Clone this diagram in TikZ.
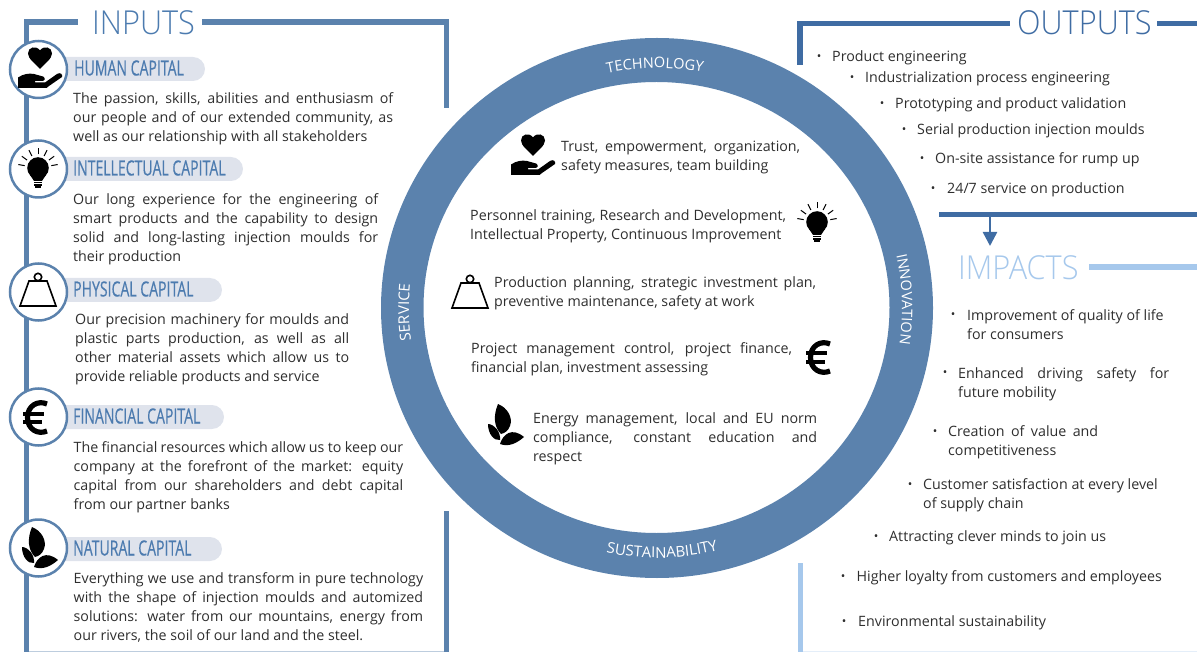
\documentclass[tikz,border=0pt]{standalone}
\usepackage{fontspec}
\usetikzlibrary{decorations.text,arrows.meta}
\setmainfont{Open Sans}
\newfontfamily\bodyf{Open Sans}
\newfontfamily\condf[FakeStretch=0.67,FakeBold=0.4]{Open Sans}
\newfontfamily\headf[FakeStretch=0.93]{Open Sans Light}
\definecolor{ringc}{HTML}{5B82AD}
\definecolor{outc}{HTML}{3F6CA3}
\definecolor{impc}{HTML}{A6C8EC}
\definecolor{pillc}{HTML}{DFE3EC}
\definecolor{txtc}{HTML}{2E2E2E}
\definecolor{titc}{HTML}{4C7BAF}
\tikzset{
  x=1pt,y=-1pt,
  para/.style={anchor=north west,inner sep=0pt,text width=#1,align=justify,text=txtc,
    font=\bodyf\fontsize{14.25}{19}\selectfont\sloppy,execute at begin node={\rule{0pt}{12pt}}},
  free/.style={anchor=base west,inner sep=0pt,text=txtc,font=\bodyf\fontsize{14.25}{19}\selectfont},
  dotn/.style={anchor=base,inner sep=0pt,text=txtc,font=\bodyf\fontsize{12}{19}\selectfont},
  pilltitle/.style={anchor=base west,inner sep=0pt,text=titc,font=\condf\fontsize{21}{24}\selectfont},
  heading/.style={anchor=base west,inner sep=0pt,font=\headf\fontsize{33}{36}\selectfont},
  badge/.style={circle,draw=ringc,line width=2.5pt,fill=white,minimum size=57pt,inner sep=0pt},
  hearthand/.pic={
    \fill (1,0) .. controls (-3,-5) and (-11,-10) .. (-11,-15.5) .. controls (-11,-22) and (-3,-24) .. (1,-18.5)
      .. controls (5,-24) and (13,-22) .. (13,-15.5) .. controls (13,-10) and (5,-5) .. (1,0) -- cycle;
    \fill (-21,19) -- (-21,8.5) .. controls (-16,5) and (-10,4) .. (-5,5) -- (4,7.5) .. controls (6.5,8.5) and (6.5,12) .. (3,12)
      -- (-4,12) -- (-4,13.5) -- (6,13.5) -- (18,5) .. controls (21,3) and (24,5) .. (23,8) -- (10,17)
      .. controls (8,19) .. (5,19) -- cycle;
  },
  bulb/.pic={
    \fill (0,0) circle (10.8);
    \fill (-8,7) -- (-4,13) -- (4,13) -- (8,7) -- cycle;
    \foreach \yy in {14.5,17}{\draw[line width=1.2pt] (-4,\yy) -- (4,\yy);}
    \fill (-3,18.5) rectangle (3,20.5);
    \foreach \a in {90,63,36,10,117,144,170}{
      \draw[line width=1pt] ({13.5*cos(\a)},{-13.5*sin(\a)}) -- ({20*cos(\a)},{-20*sin(\a)});}
  },
  weightic/.pic={
    \draw[line width=1.6pt] (0,-15) circle (3.7);
    \draw[line width=1.6pt,line join=miter,fill=white] (-9,-11) -- (9,-11) -- (18,14) -- (-18,14) -- cycle;
  },
  euroic/.pic={
    \draw[line width=5.2pt] (12,-13.5) .. controls (3,-17.5) and (-7.5,-12) .. (-7.5,0) .. controls (-7.5,12) and (3,17.5) .. (12,13.5);
    \draw[line width=4pt] (-12,-4) -- (9,-4);
    \draw[line width=4pt] (-12,4) -- (7,4);
  },
  leaves/.pic={
    \fill (-8,-20) .. controls (2,-16) and (7,-6) .. (4,2) .. controls (2,7) and (-1,9) .. (-5,10)
      .. controls (-12,3) and (-13,-8) .. (-8,-20) -- cycle;
    \fill (-18,0) .. controls (-12,0) and (-5,8) .. (-6,16) .. controls (-12,17) and (-18,10) .. (-18,0) -- cycle;
    \fill (-6,20) .. controls (-3,10) and (6,3) .. (18,13) .. controls (10,20) and (2,23) .. (-6,20) -- cycle;
  }
}
\begin{document}
\begin{tikzpicture}
\useasboundingbox (0,0) rectangle (1197,652);
% ---- ring
\fill[ringc,even odd rule] (657,308) ellipse [x radius=276,y radius=270]
  (656.5,307.5) ellipse [x radius=233,y radius=225.5];
% ---- inputs frame
\fill[ringc] (24,19.5) rectangle (78,25);
\fill[ringc] (202,19.5) rectangle (449,25);
\fill[ringc] (24,19.5) rectangle (29,652);
\fill[ringc] (444,19.5) rectangle (449,108);
\fill[ringc] (444,511) rectangle (449,652);
\fill[ringc!40] (29,651) rectangle (444,652);
\node[heading,text=titc] (inputs) at (92,35) {INPUTS};
% ---- outputs frame
\fill[outc] (797,20.7) rectangle (1010,26);
\fill[outc] (1157,20.7) rectangle (1197,26);
\fill[outc] (797,20.7) rectangle (803,65);
\fill[outc] (939,212) rectangle (1197,217.5);
\node[heading,text=outc] (outputs) at (1017,35) {OUTPUTS};
\coordinate (arrowa) at (990,217);
\coordinate (arrowb) at (990,246);
\draw[outc,line width=2.5pt,-{Triangle[width=14pt,length=14pt]}] (arrowa) -- (arrowb);
% ---- impacts frame
\fill[impc] (1089,264) rectangle (1197,270);
\fill[impc] (797.5,563) rectangle (803,652);
\fill[impc!30] (803,651) rectangle (1197,652);
\node[heading,text=impc] (impacts) at (958,280) {IMPACTS};
% ---- pills
\foreach \yc/\xr in {69/205,169/243,290/222,417/224,549/222}{
  \fill[pillc,rounded corners=12pt] (40,\yc-12) rectangle (\xr,\yc+12);
}
% ---- badges
\node[badge] (b1) at (38.5,69.5) {};
\node[badge] (b2) at (38.5,169) {};
\node[badge] (b3) at (38.5,292) {};
\node[badge] (b4) at (38.5,417) {};
\node[badge] (b5) at (38.5,548) {};
\pic at (39,69) {hearthand};
\pic at (38,168) {bulb};
\pic at (38,292) {weightic};
\pic at (35,417.5) {euroic};
\pic at (40,547) {leaves};
% ---- pill titles
\node[pilltitle] (t1) at (74,75.5) {HUMAN CAPITAL};
\node[pilltitle] (t2) at (73,175.5) {INTELLECTUAL CAPITAL};
\node[pilltitle] (t3) at (73,296.5) {PHYSICAL CAPITAL};
\node[pilltitle] (t4) at (73,423.5) {FINANCIAL CAPITAL};
\node[pilltitle] (t5) at (73,555.5) {NATURAL CAPITAL};
% ---- left paragraphs
\node[para=320pt] (p1) at (73,91) {The passion, skills, abilities and enthusiasm of\linebreak our people and of our extended community, as\linebreak well as our relationship with all stakeholders};
\node[para=305pt] (p2) at (73,192) {Our long experience for the engineering of\linebreak smart products and the capability to design\linebreak solid and long-lasting injection moulds for\linebreak their production};
\node[para=274pt] (p3) at (75,312) {Our precision machinery for moulds and\linebreak plastic parts production, as well as all\linebreak other material assets which allow us to\linebreak provide reliable products and service};
\node[para=329.5pt] (p4) at (73.5,440) {The financial resources which allow us to keep our\linebreak company at the forefront of the market: equity\linebreak capital from our shareholders and debt capital\linebreak from our partner banks};
\node[para=349.5pt] (p5) at (73.5,571) {Everything we use and transform in pure technology\linebreak with the shape of injection moulds and automized\linebreak solutions: water from our mountains, energy from\linebreak our rivers, the soil of our land and the steel.};
% ---- centre
\pic at (532,156) {hearthand};
\pic at (817,222) {bulb};
\pic at (470,294) {weightic};
\pic at (818,357.5) {euroic};
\pic at (506,424) {leaves};
\node[para=239pt] (c1) at (561,139) {Trust, empowerment, organization,\linebreak safety measures, team building};
\node[para=316pt] (c2) at (470,208) {\parfillskip=0pt Personnel training, Research and Development,\linebreak Intellectual Property, Continuous Improvement};
\node[para=322pt] (c3) at (494,275) {Production planning, strategic investment plan,\linebreak preventive maintenance, safety at work};
\node[para=321pt] (c4) at (471,341) {Project management control, project finance,\linebreak financial plan, investment assessing};
\node[para=284pt] (c5) at (533,411) {Energy management, local and EU norm\linebreak compliance, constant education and\linebreak respect};
% ---- ring labels
\begin{scope}[shift={(657,308)},y=1pt]
  \path[decorate,decoration={text along path,text align=center,
    text={|\bodyf\fontsize{14.5}{16}\selectfont\color{white}|TECHNOLOGY}}]
    (120.5:240) arc[start angle=120.5,end angle=60.5,radius=240];
  \path[decorate,decoration={text along path,text align=center,
    text={|\bodyf\fontsize{15}{16}\selectfont\color{white}|SUSTAINABILITY}}]
    (-122.3:250) arc[start angle=-122.3,end angle=-55.3,radius=250];
  \path[decorate,decoration={text along path,text align=center,
    text={|\bodyf\fontsize{15}{16}\selectfont\color{white}|SERVICE}}]
    (198:248) arc[start angle=198,end angle=164,radius=248];
  \path[decorate,decoration={text along path,text align=center,
    text={|\bodyf\fontsize{14.5}{16}\selectfont\color{white}|INNOVATION}}]
    (24:245) arc[start angle=24,end angle=-20,radius=245];
\end{scope}
% ---- outputs list
\node[dotn] (d1) at (819,61) {•}; \node[free] (o1) at (832,62) {Product engineering};
\node[dotn] (d2) at (852,82) {•}; \node[free] (o2) at (865,83) {Industrialization process engineering};
\node[dotn] (d3) at (882,108) {•}; \node[free] (o3) at (895,109) {Prototyping and product validation};
\node[dotn] (d4) at (904,134) {•}; \node[free] (o4) at (917,135) {Serial production injection moulds};
\node[dotn] (d5) at (922,163) {•}; \node[free] (o5) at (935,164) {On-site assistance for rump up};
\node[dotn] (d6) at (933,193) {•}; \node[free] (o6) at (947,194) {24/7 service on production};
% ---- impacts list
\node[dotn] (i1d) at (953,319) {•}; \node[para=210pt] (i1) at (967,308) {Improvement of quality of life\newline for consumers};
\node[dotn] (i2d) at (945,377) {•}; \node[para=211pt] (i2) at (958,366) {Enhanced driving safety for\linebreak future mobility};
\node[dotn] (i3d) at (935,435) {•}; \node[para=150pt] (i3) at (948,424) {Creation of value and\linebreak competitiveness};
\node[dotn] (i4d) at (910,488) {•}; \node[para=245pt] (i4) at (923,477) {Customer satisfaction at every level\newline of supply chain};
\node[dotn] (i5d) at (876,540) {•}; \node[free] (i5) at (889,541) {Attracting clever minds to join us};
\node[dotn] (i6d) at (843,580) {•}; \node[free] (i6) at (856.5,581) {Higher loyalty from customers and employees};
\node[dotn] (i7d) at (844,625) {•}; \node[free] (i7) at (858,626) {Environmental sustainability};
\end{tikzpicture}
\end{document}
